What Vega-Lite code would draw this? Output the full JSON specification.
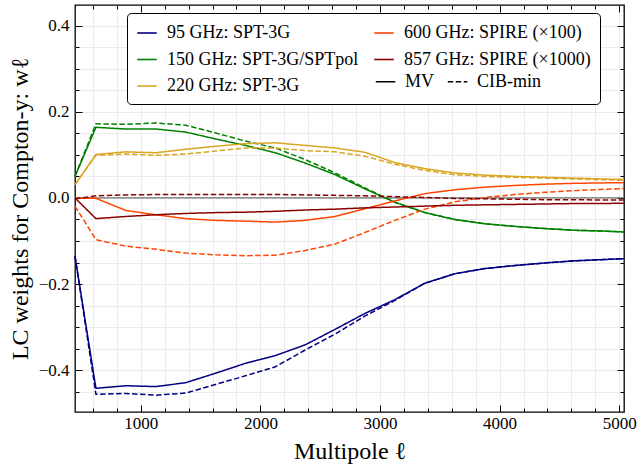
{
  "$schema": "https://vega.github.io/schema/vega-lite/v6.json",
  "width": 549,
  "height": 407,
  "autosize": {"type": "none"},
  "padding": {"left": 75, "top": 5, "right": 13, "bottom": 52},
  "config": {
    "font": "Liberation Serif",
    "view": {"stroke": "black", "strokeWidth": 1.3},
    "axis": {
      "domain": false,
      "tickColor": "black",
      "tickWidth": 1,
      "labelFont": "Liberation Serif",
      "labelFontSize": 17,
      "labelColor": "black",
      "titleFont": "Liberation Serif",
      "titleFontSize": 24,
      "titleFontWeight": "normal",
      "titleColor": "black",
      "gridColor": "#ebebeb",
      "gridWidth": 1,
      "labelOverlap": false
    }
  },
  "data": {
    "values": [
      {"s":"95 GHz: SPT-3G","t":"MV","l":450,"w":-0.135},{"s":"95 GHz: SPT-3G","t":"MV","l":625,"w":-0.442},{"s":"95 GHz: SPT-3G","t":"MV","l":875,"w":-0.436},{"s":"95 GHz: SPT-3G","t":"MV","l":1125,"w":-0.438},{"s":"95 GHz: SPT-3G","t":"MV","l":1375,"w":-0.429},{"s":"95 GHz: SPT-3G","t":"MV","l":1625,"w":-0.407},{"s":"95 GHz: SPT-3G","t":"MV","l":1875,"w":-0.384},{"s":"95 GHz: SPT-3G","t":"MV","l":2125,"w":-0.366},{"s":"95 GHz: SPT-3G","t":"MV","l":2375,"w":-0.341},{"s":"95 GHz: SPT-3G","t":"MV","l":2625,"w":-0.305},{"s":"95 GHz: SPT-3G","t":"MV","l":2875,"w":-0.268},{"s":"95 GHz: SPT-3G","t":"MV","l":3125,"w":-0.236},{"s":"95 GHz: SPT-3G","t":"MV","l":3375,"w":-0.198},{"s":"95 GHz: SPT-3G","t":"MV","l":3625,"w":-0.176},{"s":"95 GHz: SPT-3G","t":"MV","l":3875,"w":-0.164},{"s":"95 GHz: SPT-3G","t":"MV","l":4125,"w":-0.157},{"s":"95 GHz: SPT-3G","t":"MV","l":4375,"w":-0.151},{"s":"95 GHz: SPT-3G","t":"MV","l":4625,"w":-0.146},{"s":"95 GHz: SPT-3G","t":"MV","l":4875,"w":-0.143},{"s":"95 GHz: SPT-3G","t":"MV","l":5040,"w":-0.141},
      {"s":"95 GHz: SPT-3G","t":"CIB-min","l":450,"w":-0.135},{"s":"95 GHz: SPT-3G","t":"CIB-min","l":625,"w":-0.456},{"s":"95 GHz: SPT-3G","t":"CIB-min","l":875,"w":-0.454},{"s":"95 GHz: SPT-3G","t":"CIB-min","l":1125,"w":-0.458},{"s":"95 GHz: SPT-3G","t":"CIB-min","l":1375,"w":-0.453},{"s":"95 GHz: SPT-3G","t":"CIB-min","l":1625,"w":-0.433},{"s":"95 GHz: SPT-3G","t":"CIB-min","l":1875,"w":-0.413},{"s":"95 GHz: SPT-3G","t":"CIB-min","l":2125,"w":-0.392},{"s":"95 GHz: SPT-3G","t":"CIB-min","l":2375,"w":-0.353},{"s":"95 GHz: SPT-3G","t":"CIB-min","l":2625,"w":-0.316},{"s":"95 GHz: SPT-3G","t":"CIB-min","l":2875,"w":-0.274},{"s":"95 GHz: SPT-3G","t":"CIB-min","l":3125,"w":-0.238},{"s":"95 GHz: SPT-3G","t":"CIB-min","l":3375,"w":-0.198},{"s":"95 GHz: SPT-3G","t":"CIB-min","l":3625,"w":-0.176},{"s":"95 GHz: SPT-3G","t":"CIB-min","l":3875,"w":-0.164},{"s":"95 GHz: SPT-3G","t":"CIB-min","l":4125,"w":-0.157},{"s":"95 GHz: SPT-3G","t":"CIB-min","l":4375,"w":-0.151},{"s":"95 GHz: SPT-3G","t":"CIB-min","l":4625,"w":-0.146},{"s":"95 GHz: SPT-3G","t":"CIB-min","l":4875,"w":-0.143},{"s":"95 GHz: SPT-3G","t":"CIB-min","l":5040,"w":-0.141},
      {"s":"150 GHz: SPT-3G/SPTpol","t":"MV","l":450,"w":0.050},{"s":"150 GHz: SPT-3G/SPTpol","t":"MV","l":625,"w":0.164},{"s":"150 GHz: SPT-3G/SPTpol","t":"MV","l":875,"w":0.160},{"s":"150 GHz: SPT-3G/SPTpol","t":"MV","l":1125,"w":0.160},{"s":"150 GHz: SPT-3G/SPTpol","t":"MV","l":1375,"w":0.153},{"s":"150 GHz: SPT-3G/SPTpol","t":"MV","l":1625,"w":0.137},{"s":"150 GHz: SPT-3G/SPTpol","t":"MV","l":1875,"w":0.122},{"s":"150 GHz: SPT-3G/SPTpol","t":"MV","l":2125,"w":0.105},{"s":"150 GHz: SPT-3G/SPTpol","t":"MV","l":2375,"w":0.081},{"s":"150 GHz: SPT-3G/SPTpol","t":"MV","l":2625,"w":0.054},{"s":"150 GHz: SPT-3G/SPTpol","t":"MV","l":2875,"w":0.021},{"s":"150 GHz: SPT-3G/SPTpol","t":"MV","l":3125,"w":-0.010},{"s":"150 GHz: SPT-3G/SPTpol","t":"MV","l":3375,"w":-0.034},{"s":"150 GHz: SPT-3G/SPTpol","t":"MV","l":3625,"w":-0.050},{"s":"150 GHz: SPT-3G/SPTpol","t":"MV","l":3875,"w":-0.060},{"s":"150 GHz: SPT-3G/SPTpol","t":"MV","l":4125,"w":-0.066},{"s":"150 GHz: SPT-3G/SPTpol","t":"MV","l":4375,"w":-0.071},{"s":"150 GHz: SPT-3G/SPTpol","t":"MV","l":4625,"w":-0.075},{"s":"150 GHz: SPT-3G/SPTpol","t":"MV","l":4875,"w":-0.077},{"s":"150 GHz: SPT-3G/SPTpol","t":"MV","l":5040,"w":-0.079},
      {"s":"150 GHz: SPT-3G/SPTpol","t":"CIB-min","l":450,"w":0.050},{"s":"150 GHz: SPT-3G/SPTpol","t":"CIB-min","l":625,"w":0.172},{"s":"150 GHz: SPT-3G/SPTpol","t":"CIB-min","l":875,"w":0.171},{"s":"150 GHz: SPT-3G/SPTpol","t":"CIB-min","l":1125,"w":0.174},{"s":"150 GHz: SPT-3G/SPTpol","t":"CIB-min","l":1375,"w":0.169},{"s":"150 GHz: SPT-3G/SPTpol","t":"CIB-min","l":1625,"w":0.151},{"s":"150 GHz: SPT-3G/SPTpol","t":"CIB-min","l":1875,"w":0.132},{"s":"150 GHz: SPT-3G/SPTpol","t":"CIB-min","l":2125,"w":0.116},{"s":"150 GHz: SPT-3G/SPTpol","t":"CIB-min","l":2375,"w":0.089},{"s":"150 GHz: SPT-3G/SPTpol","t":"CIB-min","l":2625,"w":0.058},{"s":"150 GHz: SPT-3G/SPTpol","t":"CIB-min","l":2875,"w":0.023},{"s":"150 GHz: SPT-3G/SPTpol","t":"CIB-min","l":3125,"w":-0.010},{"s":"150 GHz: SPT-3G/SPTpol","t":"CIB-min","l":3375,"w":-0.034},{"s":"150 GHz: SPT-3G/SPTpol","t":"CIB-min","l":3625,"w":-0.050},{"s":"150 GHz: SPT-3G/SPTpol","t":"CIB-min","l":3875,"w":-0.060},{"s":"150 GHz: SPT-3G/SPTpol","t":"CIB-min","l":4125,"w":-0.066},{"s":"150 GHz: SPT-3G/SPTpol","t":"CIB-min","l":4375,"w":-0.071},{"s":"150 GHz: SPT-3G/SPTpol","t":"CIB-min","l":4625,"w":-0.075},{"s":"150 GHz: SPT-3G/SPTpol","t":"CIB-min","l":4875,"w":-0.077},{"s":"150 GHz: SPT-3G/SPTpol","t":"CIB-min","l":5040,"w":-0.079},
      {"s":"220 GHz: SPT-3G","t":"MV","l":450,"w":0.031},{"s":"220 GHz: SPT-3G","t":"MV","l":625,"w":0.101},{"s":"220 GHz: SPT-3G","t":"MV","l":875,"w":0.107},{"s":"220 GHz: SPT-3G","t":"MV","l":1125,"w":0.105},{"s":"220 GHz: SPT-3G","t":"MV","l":1375,"w":0.113},{"s":"220 GHz: SPT-3G","t":"MV","l":1625,"w":0.120},{"s":"220 GHz: SPT-3G","t":"MV","l":1875,"w":0.126},{"s":"220 GHz: SPT-3G","t":"MV","l":2125,"w":0.128},{"s":"220 GHz: SPT-3G","t":"MV","l":2375,"w":0.122},{"s":"220 GHz: SPT-3G","t":"MV","l":2625,"w":0.116},{"s":"220 GHz: SPT-3G","t":"MV","l":2875,"w":0.106},{"s":"220 GHz: SPT-3G","t":"MV","l":3125,"w":0.082},{"s":"220 GHz: SPT-3G","t":"MV","l":3375,"w":0.068},{"s":"220 GHz: SPT-3G","t":"MV","l":3625,"w":0.058},{"s":"220 GHz: SPT-3G","t":"MV","l":3875,"w":0.053},{"s":"220 GHz: SPT-3G","t":"MV","l":4125,"w":0.050},{"s":"220 GHz: SPT-3G","t":"MV","l":4375,"w":0.048},{"s":"220 GHz: SPT-3G","t":"MV","l":4625,"w":0.046},{"s":"220 GHz: SPT-3G","t":"MV","l":4875,"w":0.044},{"s":"220 GHz: SPT-3G","t":"MV","l":5040,"w":0.043},
      {"s":"220 GHz: SPT-3G","t":"CIB-min","l":450,"w":0.031},{"s":"220 GHz: SPT-3G","t":"CIB-min","l":625,"w":0.099},{"s":"220 GHz: SPT-3G","t":"CIB-min","l":875,"w":0.102},{"s":"220 GHz: SPT-3G","t":"CIB-min","l":1125,"w":0.099},{"s":"220 GHz: SPT-3G","t":"CIB-min","l":1375,"w":0.102},{"s":"220 GHz: SPT-3G","t":"CIB-min","l":1625,"w":0.109},{"s":"220 GHz: SPT-3G","t":"CIB-min","l":1875,"w":0.116},{"s":"220 GHz: SPT-3G","t":"CIB-min","l":2125,"w":0.116},{"s":"220 GHz: SPT-3G","t":"CIB-min","l":2375,"w":0.110},{"s":"220 GHz: SPT-3G","t":"CIB-min","l":2625,"w":0.107},{"s":"220 GHz: SPT-3G","t":"CIB-min","l":2875,"w":0.097},{"s":"220 GHz: SPT-3G","t":"CIB-min","l":3125,"w":0.078},{"s":"220 GHz: SPT-3G","t":"CIB-min","l":3375,"w":0.064},{"s":"220 GHz: SPT-3G","t":"CIB-min","l":3625,"w":0.054},{"s":"220 GHz: SPT-3G","t":"CIB-min","l":3875,"w":0.050},{"s":"220 GHz: SPT-3G","t":"CIB-min","l":4125,"w":0.048},{"s":"220 GHz: SPT-3G","t":"CIB-min","l":4375,"w":0.046},{"s":"220 GHz: SPT-3G","t":"CIB-min","l":4625,"w":0.044},{"s":"220 GHz: SPT-3G","t":"CIB-min","l":4875,"w":0.042},{"s":"220 GHz: SPT-3G","t":"CIB-min","l":5040,"w":0.041},
      {"s":"600 GHz: SPIRE (×100)","t":"MV","l":450,"w":0.000},{"s":"600 GHz: SPIRE (×100)","t":"MV","l":625,"w":-0.001},{"s":"600 GHz: SPIRE (×100)","t":"MV","l":875,"w":-0.029},{"s":"600 GHz: SPIRE (×100)","t":"MV","l":1125,"w":-0.039},{"s":"600 GHz: SPIRE (×100)","t":"MV","l":1375,"w":-0.048},{"s":"600 GHz: SPIRE (×100)","t":"MV","l":1625,"w":-0.052},{"s":"600 GHz: SPIRE (×100)","t":"MV","l":1875,"w":-0.054},{"s":"600 GHz: SPIRE (×100)","t":"MV","l":2125,"w":-0.056},{"s":"600 GHz: SPIRE (×100)","t":"MV","l":2375,"w":-0.052},{"s":"600 GHz: SPIRE (×100)","t":"MV","l":2625,"w":-0.043},{"s":"600 GHz: SPIRE (×100)","t":"MV","l":2875,"w":-0.025},{"s":"600 GHz: SPIRE (×100)","t":"MV","l":3125,"w":-0.007},{"s":"600 GHz: SPIRE (×100)","t":"MV","l":3375,"w":0.010},{"s":"600 GHz: SPIRE (×100)","t":"MV","l":3625,"w":0.019},{"s":"600 GHz: SPIRE (×100)","t":"MV","l":3875,"w":0.025},{"s":"600 GHz: SPIRE (×100)","t":"MV","l":4125,"w":0.029},{"s":"600 GHz: SPIRE (×100)","t":"MV","l":4375,"w":0.032},{"s":"600 GHz: SPIRE (×100)","t":"MV","l":4625,"w":0.034},{"s":"600 GHz: SPIRE (×100)","t":"MV","l":4875,"w":0.035},{"s":"600 GHz: SPIRE (×100)","t":"MV","l":5040,"w":0.035},
      {"s":"600 GHz: SPIRE (×100)","t":"CIB-min","l":450,"w":-0.019},{"s":"600 GHz: SPIRE (×100)","t":"CIB-min","l":625,"w":-0.097},{"s":"600 GHz: SPIRE (×100)","t":"CIB-min","l":875,"w":-0.112},{"s":"600 GHz: SPIRE (×100)","t":"CIB-min","l":1125,"w":-0.119},{"s":"600 GHz: SPIRE (×100)","t":"CIB-min","l":1375,"w":-0.128},{"s":"600 GHz: SPIRE (×100)","t":"CIB-min","l":1625,"w":-0.132},{"s":"600 GHz: SPIRE (×100)","t":"CIB-min","l":1875,"w":-0.134},{"s":"600 GHz: SPIRE (×100)","t":"CIB-min","l":2125,"w":-0.133},{"s":"600 GHz: SPIRE (×100)","t":"CIB-min","l":2375,"w":-0.122},{"s":"600 GHz: SPIRE (×100)","t":"CIB-min","l":2625,"w":-0.107},{"s":"600 GHz: SPIRE (×100)","t":"CIB-min","l":2875,"w":-0.080},{"s":"600 GHz: SPIRE (×100)","t":"CIB-min","l":3125,"w":-0.052},{"s":"600 GHz: SPIRE (×100)","t":"CIB-min","l":3375,"w":-0.026},{"s":"600 GHz: SPIRE (×100)","t":"CIB-min","l":3625,"w":-0.009},{"s":"600 GHz: SPIRE (×100)","t":"CIB-min","l":3875,"w":0.001},{"s":"600 GHz: SPIRE (×100)","t":"CIB-min","l":4125,"w":0.008},{"s":"600 GHz: SPIRE (×100)","t":"CIB-min","l":4375,"w":0.013},{"s":"600 GHz: SPIRE (×100)","t":"CIB-min","l":4625,"w":0.017},{"s":"600 GHz: SPIRE (×100)","t":"CIB-min","l":4875,"w":0.020},{"s":"600 GHz: SPIRE (×100)","t":"CIB-min","l":5040,"w":0.022},
      {"s":"857 GHz: SPIRE (×1000)","t":"MV","l":450,"w":0.000},{"s":"857 GHz: SPIRE (×1000)","t":"MV","l":625,"w":-0.048},{"s":"857 GHz: SPIRE (×1000)","t":"MV","l":875,"w":-0.043},{"s":"857 GHz: SPIRE (×1000)","t":"MV","l":1125,"w":-0.039},{"s":"857 GHz: SPIRE (×1000)","t":"MV","l":1375,"w":-0.036},{"s":"857 GHz: SPIRE (×1000)","t":"MV","l":1625,"w":-0.034},{"s":"857 GHz: SPIRE (×1000)","t":"MV","l":1875,"w":-0.033},{"s":"857 GHz: SPIRE (×1000)","t":"MV","l":2125,"w":-0.031},{"s":"857 GHz: SPIRE (×1000)","t":"MV","l":2375,"w":-0.028},{"s":"857 GHz: SPIRE (×1000)","t":"MV","l":2625,"w":-0.026},{"s":"857 GHz: SPIRE (×1000)","t":"MV","l":2875,"w":-0.023},{"s":"857 GHz: SPIRE (×1000)","t":"MV","l":3125,"w":-0.021},{"s":"857 GHz: SPIRE (×1000)","t":"MV","l":3375,"w":-0.019},{"s":"857 GHz: SPIRE (×1000)","t":"MV","l":3625,"w":-0.017},{"s":"857 GHz: SPIRE (×1000)","t":"MV","l":3875,"w":-0.016},{"s":"857 GHz: SPIRE (×1000)","t":"MV","l":4125,"w":-0.015},{"s":"857 GHz: SPIRE (×1000)","t":"MV","l":4375,"w":-0.014},{"s":"857 GHz: SPIRE (×1000)","t":"MV","l":4625,"w":-0.013},{"s":"857 GHz: SPIRE (×1000)","t":"MV","l":4875,"w":-0.013},{"s":"857 GHz: SPIRE (×1000)","t":"MV","l":5040,"w":-0.012},
      {"s":"857 GHz: SPIRE (×1000)","t":"CIB-min","l":450,"w":-0.002},{"s":"857 GHz: SPIRE (×1000)","t":"CIB-min","l":625,"w":0.005},{"s":"857 GHz: SPIRE (×1000)","t":"CIB-min","l":875,"w":0.007},{"s":"857 GHz: SPIRE (×1000)","t":"CIB-min","l":1125,"w":0.008},{"s":"857 GHz: SPIRE (×1000)","t":"CIB-min","l":1375,"w":0.008},{"s":"857 GHz: SPIRE (×1000)","t":"CIB-min","l":1625,"w":0.008},{"s":"857 GHz: SPIRE (×1000)","t":"CIB-min","l":1875,"w":0.008},{"s":"857 GHz: SPIRE (×1000)","t":"CIB-min","l":2125,"w":0.008},{"s":"857 GHz: SPIRE (×1000)","t":"CIB-min","l":2375,"w":0.007},{"s":"857 GHz: SPIRE (×1000)","t":"CIB-min","l":2625,"w":0.006},{"s":"857 GHz: SPIRE (×1000)","t":"CIB-min","l":2875,"w":0.005},{"s":"857 GHz: SPIRE (×1000)","t":"CIB-min","l":3125,"w":0.003},{"s":"857 GHz: SPIRE (×1000)","t":"CIB-min","l":3375,"w":0.001},{"s":"857 GHz: SPIRE (×1000)","t":"CIB-min","l":3625,"w":-0.001},{"s":"857 GHz: SPIRE (×1000)","t":"CIB-min","l":3875,"w":-0.002},{"s":"857 GHz: SPIRE (×1000)","t":"CIB-min","l":4125,"w":-0.003},{"s":"857 GHz: SPIRE (×1000)","t":"CIB-min","l":4375,"w":-0.004},{"s":"857 GHz: SPIRE (×1000)","t":"CIB-min","l":4625,"w":-0.004},{"s":"857 GHz: SPIRE (×1000)","t":"CIB-min","l":4875,"w":-0.005},{"s":"857 GHz: SPIRE (×1000)","t":"CIB-min","l":5040,"w":-0.005}
    ]
  },
  "layer": [
    {
      "mark": {"type": "rule", "color": "#6e6e6e", "strokeWidth": 1.2},
      "encoding": {
        "x": {
          "aggregate": "min", "field": "l", "type": "quantitative",
          "scale": {"domain": [450, 5040], "nice": false, "zero": false},
          "axis": {
            "orient": "top", "title": null, "labels": false, "grid": false,
            "values": [600,800,1000,1200,1400,1600,1800,2000,2200,2400,2600,2800,3000,3200,3400,3600,3800,4000,4200,4400,4600,4800,5000],
            "tickSize": {"condition": {"test": "datum.value % 1000 === 0", "value": -7}, "value": -4}
          }
        },
        "x2": {"aggregate": "max", "field": "l"},
        "y": {
          "datum": 0, "type": "quantitative",
          "scale": {"domain": [-0.497, 0.448], "nice": false, "zero": false},
          "axis": {
            "orient": "right", "title": null, "labels": false, "grid": false,
            "values": [-0.45,-0.4,-0.35,-0.3,-0.25,-0.2,-0.15,-0.1,-0.05,0,0.05,0.1,0.15,0.2,0.25,0.3,0.35,0.4],
            "tickSize": {"condition": {"test": "abs(datum.value*5 - round(datum.value*5)) < 1e-6", "value": -7}, "value": -4}
          }
        }
      }
    },
    {
      "mark": {"type": "line", "strokeWidth": 1.5},
      "encoding": {
        "x": {
          "field": "l", "type": "quantitative",
          "scale": {"domain": [450, 5040], "nice": false, "zero": false},
          "axis": {
            "orient": "bottom", "title": "Multipole ℓ", "grid": true,
            "values": [600,800,1000,1200,1400,1600,1800,2000,2200,2400,2600,2800,3000,3200,3400,3600,3800,4000,4200,4400,4600,4800,5000],
            "labelExpr": "datum.value % 1000 === 0 ? format(datum.value, 'd') : ''",
            "tickSize": {"condition": {"test": "datum.value % 1000 === 0", "value": -7}, "value": -4},
            "labelPadding": 10,
            "titlePadding": 5
          }
        },
        "y": {
          "field": "w", "type": "quantitative",
          "scale": {"domain": [-0.497, 0.448], "nice": false, "zero": false},
          "axis": {
            "orient": "left", "title": "LC weights for Compton-y: wℓ", "grid": true,
            "values": [-0.45,-0.4,-0.35,-0.3,-0.25,-0.2,-0.15,-0.1,-0.05,0,0.05,0.1,0.15,0.2,0.25,0.3,0.35,0.4],
            "labelExpr": "abs(datum.value*5 - round(datum.value*5)) < 1e-6 ? format(datum.value, '.1f') : ''",
            "tickSize": {"condition": {"test": "abs(datum.value*5 - round(datum.value*5)) < 1e-6", "value": -7}, "value": -4},
            "labelPadding": 13,
            "titlePadding": 6
          }
        },
        "color": {
          "field": "s", "type": "nominal",
          "scale": {
            "domain": ["95 GHz: SPT-3G", "150 GHz: SPT-3G/SPTpol", "220 GHz: SPT-3G", "600 GHz: SPIRE (×100)", "857 GHz: SPIRE (×1000)"],
            "range": ["#000080", "#008000", "#daa520", "#ff4500", "#8b0000"]
          },
          "legend": {
            "orient": "none", "legendX": 52, "legendY": 8, "columns": 2, "gridAlign": "all", "title": null,
            "symbolType": "stroke", "symbolSize": 380, "symbolStrokeWidth": 1.6,
            "labelFont": "Liberation Serif", "labelFontSize": 18, "labelColor": "black", "labelLimit": 0,
            "labelOffset": 9, "rowPadding": 6.5, "columnPadding": 12, "padding": 9,
            "strokeColor": "black", "fillColor": "white", "cornerRadius": 4, "zindex": 1
          }
        },
        "strokeDash": {
          "field": "t", "type": "nominal",
          "scale": {"domain": ["MV", "CIB-min"], "range": [[1, 0], [5.5, 2.5]]},
          "legend": {
            "orient": "none", "legendX": 300, "legendY": 66, "direction": "horizontal", "title": null,
            "symbolType": "stroke", "symbolSize": 380, "symbolStrokeColor": "black", "symbolStrokeWidth": 1.5,
            "labelFont": "Liberation Serif", "labelFontSize": 18, "labelColor": "black",
            "labelOffset": 9, "columnPadding": 9, "padding": 0, "zindex": 2
          }
        }
      }
    }
  ]
}
